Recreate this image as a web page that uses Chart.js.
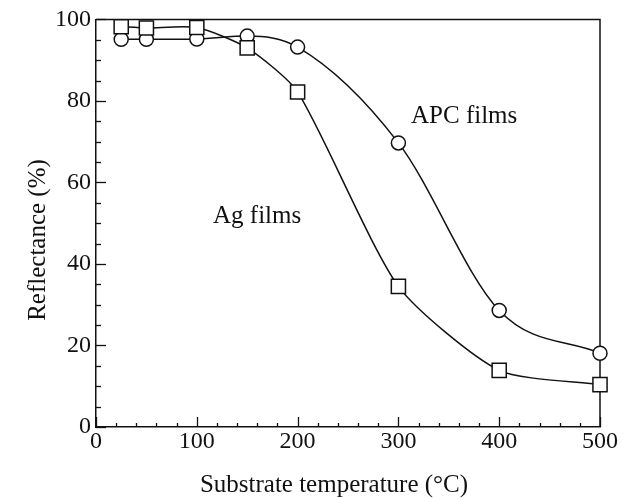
<!DOCTYPE html>
<html>
<head>
<meta charset="utf-8">
<script src="https://cdn.jsdelivr.net/npm/chart.js@4"></script>
<style>
  html, body { margin: 0; padding: 0; background: #fff; }
  #wrap { width: 623px; height: 498px; }
  canvas { display: block; }
</style>
</head>
<body>
<div id="wrap"><canvas id="c" width="623" height="498" style="width:623px;height:498px"></canvas></div>
<script>
// ---- data ----
const temperatures = [25, 50, 100, 150, 200, 300, 400, 500];
const agFilms  = [98.2, 97.9, 98.0, 93.0, 82.2, 34.5, 13.9, 10.4];
const apcFilms = [95.1, 95.1, 95.2, 95.9, 93.2, 69.7, 28.6, 18.1];
const xTickValues = [0, 100, 200, 300, 400, 500];
const yTickValues = [0, 20, 40, 60, 80, 100];
const xTitle = 'Substrate temperature (°C)';
const yTitle = 'Reflectance (%)';
const labelAg = 'Ag films';
const labelAPC = 'APC films';

const FONT = '"Liberation Serif", "Times New Roman", serif';
const INK = '#111';

const toPoints = (xs, ys) => xs.map((x, i) => ({ x: x, y: ys[i] }));

const frameAndTicks = {
  id: 'frameAndTicks',
  beforeDatasetsDraw(chart) {
    const { ctx, chartArea: a, scales } = chart;
    const xs = scales.x, ys = scales.y;
    ctx.save();
    ctx.strokeStyle = INK;
    ctx.lineWidth = 1.5;
    // top & right frame lines
    ctx.beginPath();
    ctx.moveTo(a.left, a.top);
    ctx.lineTo(a.right, a.top);
    ctx.lineTo(a.right, a.bottom);
    ctx.stroke();
    // inward ticks on x axis (minor every 20, major every 100)
    ctx.lineWidth = 1.3;
    for (let v = 0; v <= 500; v += 20) {
      const px = Math.round(xs.getPixelForValue(v)) + 0.5;
      const len = (v % 100 === 0) ? 10 : 4;
      ctx.beginPath();
      ctx.moveTo(px, a.bottom);
      ctx.lineTo(px, a.bottom - len);
      ctx.stroke();
    }
    // inward ticks on y axis (minor every 5, major every 20)
    for (let v = 0; v <= 100; v += 5) {
      const py = Math.round(ys.getPixelForValue(v)) + 0.5;
      const len = (v % 20 === 0) ? 10 : 5;
      ctx.beginPath();
      ctx.moveTo(a.left, py);
      ctx.lineTo(a.left + len, py);
      ctx.stroke();
    }
    ctx.restore();
  },
  afterDraw(chart) {
    const { ctx } = chart;
    ctx.save();
    ctx.fillStyle = INK;
    ctx.font = '25px ' + FONT;
    ctx.textBaseline = 'alphabetic';
    // x axis title
    ctx.textAlign = 'center';
    ctx.fillText(xTitle, 334, 492);
    // y axis title
    ctx.save();
    ctx.translate(45, 240);
    ctx.rotate(-Math.PI / 2);
    ctx.fillText(yTitle, 0, 0);
    ctx.restore();
    // curve labels
    ctx.textAlign = 'left';
    ctx.fillText(labelAPC, 411, 123);
    ctx.fillText(labelAg, 213, 223);
    ctx.restore();
  }
};

new Chart(document.getElementById('c'), {
  type: 'line',
  data: {
    datasets: [
      {
        label: labelAg,
        data: toPoints(temperatures, agFilms),
        borderColor: INK,
        borderWidth: 1.5,
        cubicInterpolationMode: 'default',
        tension: 0.22,
        pointStyle: 'rect',
        pointRadius: 10,
        pointBorderWidth: 1.5,
        pointBackgroundColor: '#fff',
        pointBorderColor: INK,
        fill: false,
        clip: false
      },
      {
        label: labelAPC,
        data: toPoints(temperatures, apcFilms),
        borderColor: INK,
        borderWidth: 1.5,
        cubicInterpolationMode: 'monotone',
        pointStyle: 'circle',
        pointRadius: 7,
        pointBorderWidth: 1.5,
        pointBackgroundColor: '#fff',
        pointBorderColor: INK,
        fill: false,
        clip: false
      }
    ]
  },
  options: {
    responsive: false,
    devicePixelRatio: 1,
    animation: false,
    events: [],
    layout: { padding: { top: 18, right: 23, left: 0, bottom: 0 } },
    plugins: {
      legend: { display: false },
      tooltip: { enabled: false },
      title: { display: false }
    },
    scales: {
      x: {
        type: 'linear',
        min: 0,
        max: 500,
        afterFit(scale) { scale.height = 71; },
        afterBuildTicks(scale) { scale.ticks = xTickValues.map(v => ({ value: v })); },
        grid: { display: true, drawOnChartArea: false, drawTicks: false },
        border: { display: true, color: INK, width: 1.5 },
        ticks: {
          padding: 0,
          maxRotation: 0,
          autoSkip: false,
          color: INK,
          font: { family: FONT, size: 24 }
        }
      },
      y: {
        type: 'linear',
        min: 0,
        max: 100,
        afterFit(scale) { scale.width = 96; },
        afterBuildTicks(scale) { scale.ticks = yTickValues.map(v => ({ value: v })); },
        grid: { display: true, drawOnChartArea: false, drawTicks: false },
        border: { display: true, color: INK, width: 1.5 },
        ticks: {
          padding: 5,
          autoSkip: false,
          color: INK,
          font: { family: FONT, size: 24 }
        }
      }
    }
  },
  plugins: [frameAndTicks]
});
</script>
</body>
</html>
